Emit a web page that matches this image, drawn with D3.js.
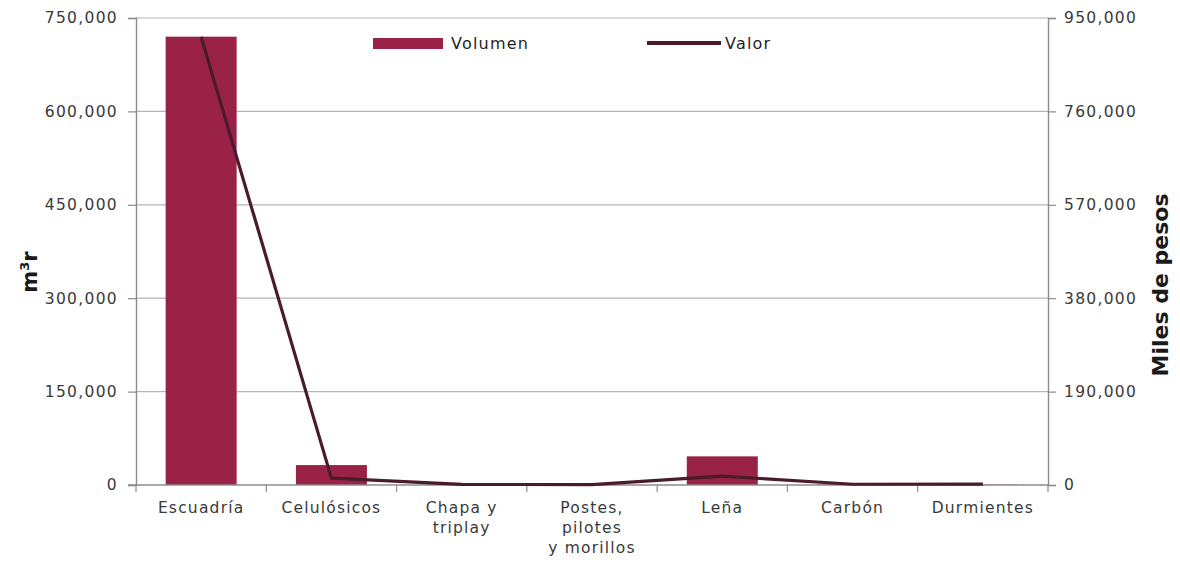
<!DOCTYPE html>
<html>
<head>
<meta charset="utf-8">
<script src="https://cdn.jsdelivr.net/npm/d3@7"></script>
<style>
  html, body { margin: 0; padding: 0; background: #fff; }
  svg { display: block; font-family: "DejaVu Sans", "Noto Sans", sans-serif; }
</style>
</head>
<body>
<svg id="chart" width="1180" height="567"></svg>
<script>
// Producción forestal maderable por grupo de productos
const categories = ["Escuadría", "Celulósicos", "Chapa y triplay", "Postes, pilotes y morillos", "Leña", "Carbón", "Durmientes"];
const categoryLines = [["Escuadría"], ["Celulósicos"], ["Chapa y", "triplay"], ["Postes,", "pilotes", "y morillos"], ["Leña"], ["Carbón"], ["Durmientes"]];
const volumen = [720000, 32000, 500, 300, 46000, 800, 600];      // m³r
const valor = [912000, 14000, 1200, 800, 18000, 1500, 1800];      // miles de pesos
const leftTicks = [0, 150000, 300000, 450000, 600000, 750000];
const rightTicks = [0, 190000, 380000, 570000, 760000, 950000];

const svg = d3.select("#chart");
const m = { left: 136, right: 1048, top: 18, bottom: 485 };

const x = d3.scaleBand().domain(categories).range([m.left, m.right]).paddingInner(0.455).paddingOuter(0.2275);
const yL = d3.scaleLinear().domain([0, 750000]).range([m.bottom, m.top]);
const yR = d3.scaleLinear().domain([0, 950000]).range([m.bottom, m.top]);
const fmt = d3.format(",");
const textColor = "#3a3a3a";
const axisColor = "#8c8c8c";

// horizontal gridlines
svg.append("g").selectAll("line").data(leftTicks.slice(1)).join("line")
  .attr("x1", m.left).attr("x2", m.right)
  .attr("y1", d => yL(d)).attr("y2", d => yL(d))
  .attr("stroke", "#b5b5b5").attr("stroke-width", 1.2);

// bars
svg.append("g").selectAll("rect").data(categories).join("rect")
  .attr("x", d => x(d)).attr("width", x.bandwidth())
  .attr("y", (d, i) => yL(volumen[i]))
  .attr("height", (d, i) => m.bottom - yL(volumen[i]))
  .attr("fill", "#9b2247");

// left axis
const gL = svg.append("g").attr("transform", `translate(${m.left},0)`)
  .call(d3.axisLeft(yL).tickValues(leftTicks).tickFormat(fmt).tickSize(8).tickPadding(10));
// right axis
const gR = svg.append("g").attr("transform", `translate(${m.right},0)`)
  .call(d3.axisRight(yR).tickValues(rightTicks).tickFormat(fmt).tickSize(8).tickPadding(8));
[gL, gR].forEach(g => {
  g.select(".domain").attr("stroke", axisColor).attr("stroke-width", 1.4);
  g.selectAll(".tick line").attr("stroke", axisColor).attr("stroke-width", 1.2);
  g.selectAll(".tick text").attr("fill", textColor).attr("font-size", 15.5)
    .attr("font-family", "DejaVu Sans").attr("letter-spacing", 1.3);
});

// bottom axis with ticks at category boundaries
const step = x.step();
const boundaries = d3.range(categories.length + 1).map(i => m.left + i * step);
svg.append("line").attr("x1", m.left - 8).attr("x2", m.right)
  .attr("y1", m.bottom).attr("y2", m.bottom)
  .attr("stroke", axisColor).attr("stroke-width", 1.4);
svg.append("g").selectAll("line").data(boundaries).join("line")
  .attr("x1", d => d).attr("x2", d => d)
  .attr("y1", m.bottom).attr("y2", m.bottom + 7)
  .attr("stroke", axisColor).attr("stroke-width", 1.2);

// category labels
const lab = svg.append("g").attr("fill", textColor).attr("font-size", 15.5)
  .attr("letter-spacing", 1.2).attr("text-anchor", "middle");
categories.forEach((c, i) => {
  const cx = x(c) + x.bandwidth() / 2;
  const t = lab.append("text").attr("x", cx).attr("y", 513);
  categoryLines[i].forEach((ln, j) => {
    t.append("tspan").attr("x", cx).attr("dy", j === 0 ? 0 : 20).text(ln);
  });
});

// value line
const line = d3.line()
  .x((d, i) => x(categories[i]) + x.bandwidth() / 2)
  .y(d => yR(d));
svg.append("path").datum(valor)
  .attr("d", line).attr("fill", "none")
  .attr("stroke", "#4a1b2b").attr("stroke-width", 3.2).attr("stroke-linejoin", "round");

// axis titles
svg.append("text").attr("transform", "translate(37,272) rotate(-90)")
  .attr("text-anchor", "middle").attr("font-size", 21).attr("font-weight", "bold").attr("fill", "#1a1a1a")
  .html('m<tspan dy="-8" font-size="13">3</tspan><tspan dy="8">r</tspan>');
svg.append("text").attr("transform", "translate(1168,285) rotate(-90)")
  .attr("text-anchor", "middle").attr("font-size", 22).attr("font-weight", "bold").attr("fill", "#1a1a1a")
  .text("Miles de pesos");

// legend
const lg = svg.append("g").attr("font-size", 16).attr("fill", "#1f1f1f").attr("letter-spacing", 1.2);
lg.append("rect").attr("x", 373).attr("y", 38).attr("width", 70).attr("height", 11).attr("fill", "#9b2247");
lg.append("text").attr("x", 451).attr("y", 49).text("Volumen");
lg.append("line").attr("x1", 647).attr("x2", 721).attr("y1", 43).attr("y2", 43)
  .attr("stroke", "#4a1b2b").attr("stroke-width", 4);
lg.append("text").attr("x", 725).attr("y", 49).text("Valor");
</script>
</body>
</html>
